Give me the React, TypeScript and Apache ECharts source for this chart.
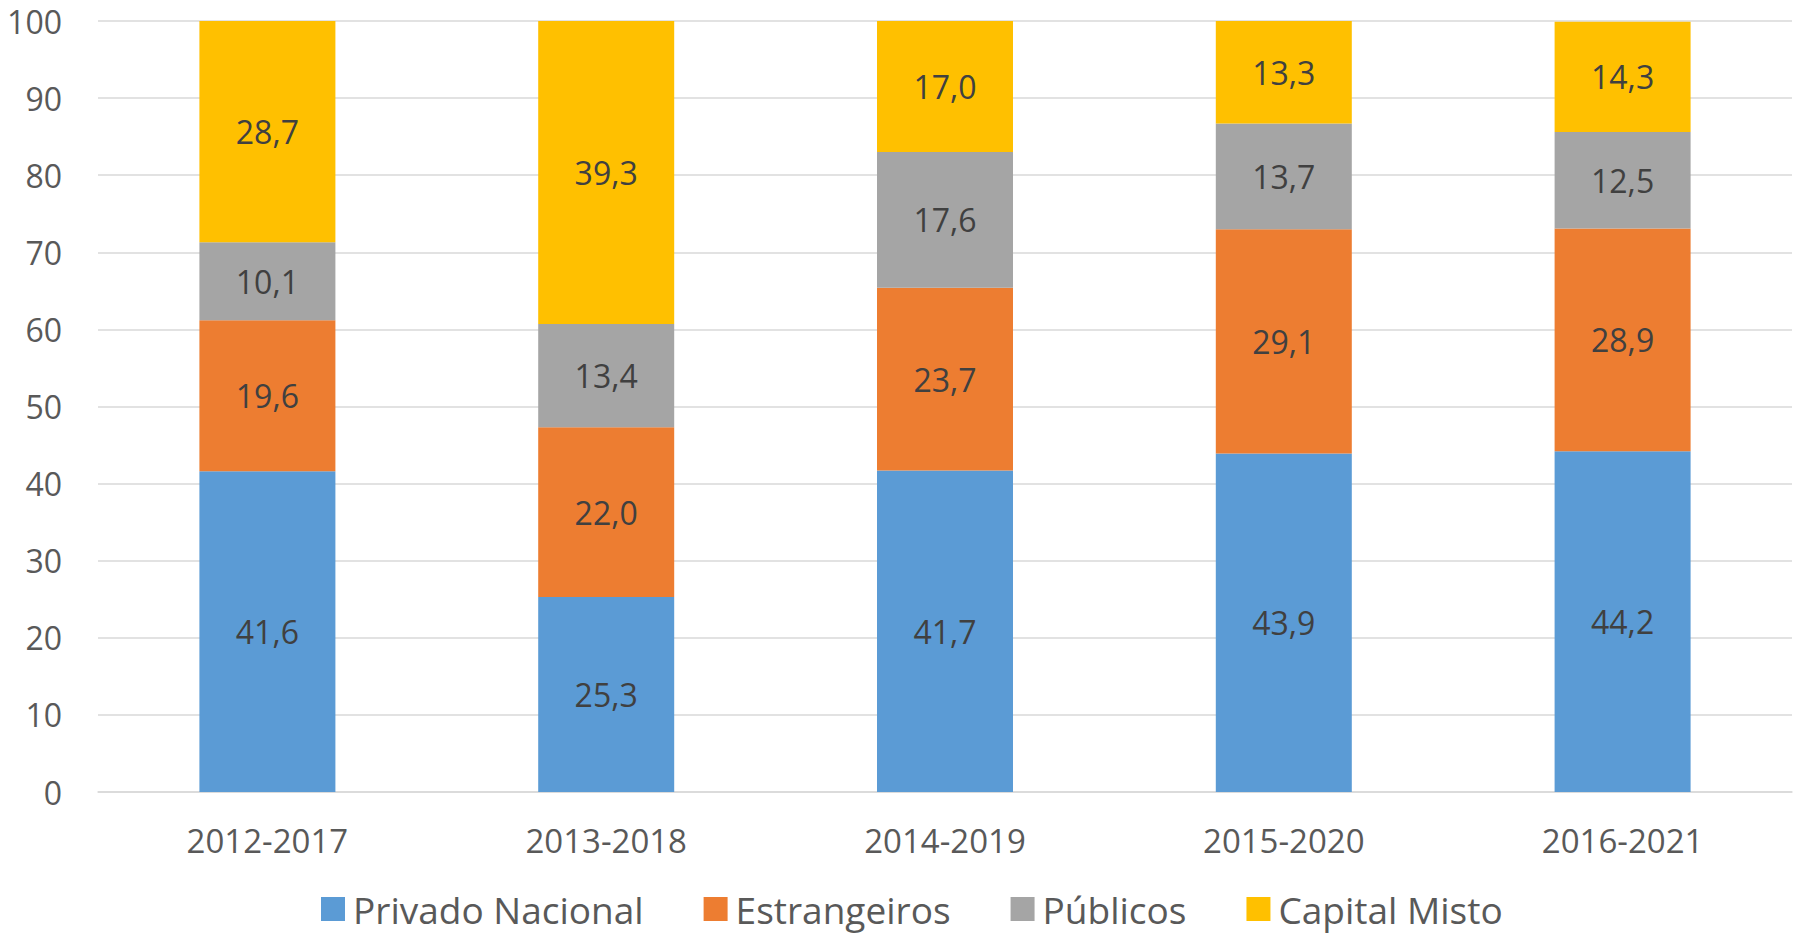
import React, { useEffect, useRef } from "react";
import * as echarts from "echarts";

const categories = ["2012-2017", "2013-2018", "2014-2019", "2015-2020", "2016-2021"];
const seriesNames = ["Privado Nacional", "Estrangeiros", "Públicos", "Capital Misto"];
const privadoNacional = [41.6, 25.3, 41.7, 43.9, 44.2];
const estrangeiros = [19.6, 22.0, 23.7, 29.1, 28.9];
const publicos = [10.1, 13.4, 17.6, 13.7, 12.5];
const capitalMisto = [28.7, 39.3, 17.0, 13.3, 14.3];
const yTicks = [0, 10, 20, 30, 40, 50, 60, 70, 80, 90, 100];

const colors = ["#5B9BD5", "#ED7D31", "#A5A5A5", "#FFC000"];
const FONT = "'Open Sans', 'Noto Sans', sans-serif";

export default function App() {
  const ref = useRef<HTMLDivElement>(null);
  useEffect(() => {
    if (!ref.current) return;
    const chart = echarts.init(ref.current, null, { renderer: "svg" });
    const data = [privadoNacional, estrangeiros, publicos, capitalMisto];
    chart.setOption({
      animation: false,
      backgroundColor: "#ffffff",
      textStyle: { fontFamily: FONT },
      grid: { left: 98, right: 2, top: 21, bottom: 145, containLabel: false },
      legend: {
        data: seriesNames,
        left: 321,
        top: 888,
        itemWidth: 24,
        itemHeight: 24,
        itemGap: 60,
        icon: "rect",
        padding: 0,
        textStyle: {
          fontFamily: FONT,
          fontSize: 37,
          color: "#595959",
          lineHeight: 42,
          padding: [0, 0, 0, 3],
        },
      },
      xAxis: {
        type: "category",
        data: categories,
        axisLine: { show: true, lineStyle: { color: "#D9D9D9", width: 1.5 } },
        axisTick: { show: false },
        axisLabel: { fontFamily: FONT, fontSize: 33, color: "#595959", margin: 32 },
      },
      yAxis: {
        type: "value",
        min: yTicks[0],
        max: yTicks[yTicks.length - 1],
        interval: yTicks[1] - yTicks[0],
        axisLine: { show: false },
        axisTick: { show: false },
        splitLine: { lineStyle: { color: "#D9D9D9", width: 1.5 } },
        axisLabel: { fontFamily: FONT, fontSize: 32, color: "#595959", margin: 36 },
      },
      series: seriesNames.map((name, i) => ({
        name,
        type: "bar",
        stack: "total",
        barWidth: 136,
        itemStyle: { color: colors[i] },
        label: {
          show: true,
          position: "inside",
          fontFamily: FONT,
          fontSize: 32,
          color: "#404040",
          formatter: (p: any) => Number(p.value).toFixed(1).replace(".", ","),
        },
        data: data[i],
      })),
    });
    return () => chart.dispose();
  }, []);
  return (
    <div
      ref={ref}
      style={{ position: "fixed", left: 0, top: 0, width: 1794, height: 937, background: "#fff" }}
    />
  );
}
